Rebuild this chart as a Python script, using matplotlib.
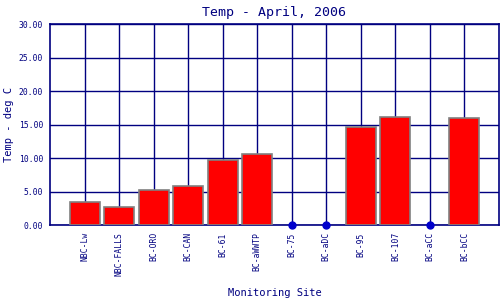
import numpy as np
import matplotlib.pyplot as plt

sites = ['NBC-Lw', 'NBC-FALLS', 'BC-ORO', 'BC-CAN', 'BC-61', 'BC-aWWTP',
         'BC-75', 'BC-aDC', 'BC-95', 'BC-107', 'BC-aCC', 'BC-bCC']
temps = [3.45, 2.7, 5.25, 5.85, 9.75, 10.65,
         None, None, 14.7, 16.2, None, 16.05]

navy = '#000080'
plt.rcParams['font.family'] = 'DejaVu Sans Mono'

fig = plt.figure(figsize=(5, 3), dpi=100)
ax = fig.add_axes([0.1, 0.249, 0.898, 0.671])

x = np.arange(len(sites))
have = [i for i, t in enumerate(temps) if t is not None]
miss = [i for i, t in enumerate(temps) if t is None]

ax.bar([x[i] for i in have], [temps[i] for i in have], width=0.87,
       color='#ff0000', edgecolor='#808080', linewidth=1.2, zorder=3)
ax.plot([x[i] for i in miss], [0] * len(miss), 'o', color='#0000cc',
        markersize=5, zorder=4, clip_on=False)

ax.set_xlim(-1, 12)
ax.set_ylim(0, 30)
ax.set_yticks(np.arange(0, 31, 5))
ax.set_yticklabels(['%.2f' % v for v in np.arange(0, 31, 5)])
ax.set_xticks(x)
ax.set_xticklabels(sites, rotation=90)
ax.grid(True, color=navy, linewidth=1.0, zorder=0)
ax.set_axisbelow(True)
ax.tick_params(length=0, colors=navy, labelsize=5.8, pad=5)
for s in ax.spines.values():
    s.set_color(navy)
    s.set_linewidth(1.2)

ax.set_title('Temp - April, 2006', color=navy, fontsize=9.5, pad=6)
ax.set_ylabel('Temp - deg C', color=navy, fontsize=7.5, va='center')
ax.yaxis.set_label_coords(-0.092, 0.5)
ax.set_xlabel('Monitoring Site', color=navy, fontsize=7.5, va='center')
ax.xaxis.set_label_coords(0.5, -0.335)

fig.savefig('out.png', dpi=100)
